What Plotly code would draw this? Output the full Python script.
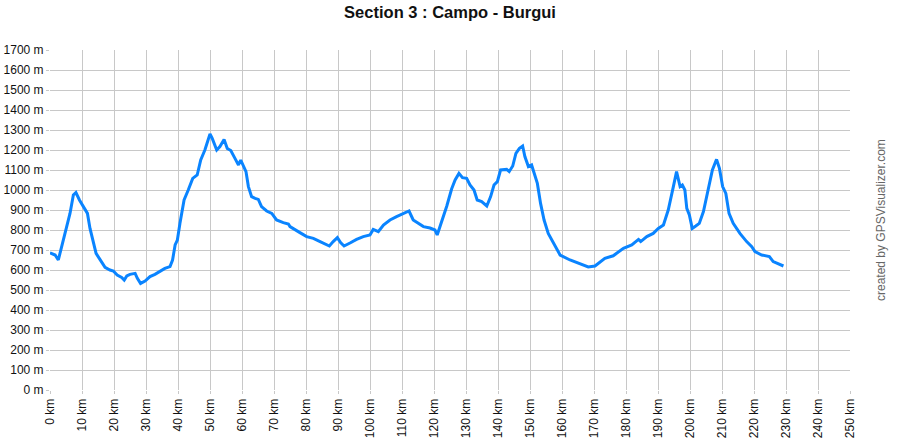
import plotly.graph_objects as go

distance_km = [0, 1.6, 2.6, 3.3, 4.7, 6.25, 7.3, 8.1, 9.2, 10.4, 11.7, 12.5, 13.5, 14.4, 15.6, 17.2,
               18.75, 19.8, 21, 22.4, 23.2, 24, 25, 26.6, 27.3, 28.3, 29.7, 31.25, 32.8, 34.4, 35.9,
               37.5, 38.3, 39.1, 39.8, 40.6, 41.9, 43.2, 44.6, 46, 47.1, 48.4, 49.3, 50, 50.7, 52.1,
               53.1, 54.4, 55.4, 56.5, 57.8, 58.9, 59.6, 60.4, 61.25, 62, 63, 64.1, 65.1, 66.1, 67.7,
               69.3, 70.8, 72.9, 74.5, 75, 76.6, 78.1, 80.2, 82.3, 84.4, 85.9, 87.3, 88.5, 89.8, 90.8,
               91.9, 93.75, 95.8, 97.9, 100, 101, 102.6, 104.2, 106.25, 108.3, 110.4, 112.2, 113.5,
               115.1, 116.7, 118.75, 120.3, 121, 122.4, 124, 125.5, 126.6, 127.8, 128.9, 130.2,
               131.25, 132.5, 133.5, 134.9, 136.5, 137.7, 138.75, 139.8, 140.8, 142.7, 143.5, 144.6,
               145.6, 146.7, 147.7, 148.4, 149.5, 150.5, 151.6, 152.3, 153.3, 154.4, 155.7, 157.3,
               159.4, 162.5, 165.6, 168.2, 170.3, 173.4, 176, 179.2, 181.8, 183.9, 184.6, 186.5,
               188.5, 190.1, 191.7, 193.2, 194.8, 195.8, 196.9, 197.6, 198.4, 199, 199.8, 200.7,
               201.8, 202.9, 204.2, 205.7, 207, 208.3, 209.2, 210.2, 211.2, 212.2, 213.5, 215.6,
               217.7, 219.3, 220.3, 222.4, 224.8, 226, 227.6, 229.2]
elevation_m = [686, 675, 650, 692, 783, 883, 975, 987, 950, 917, 883, 808, 733, 683, 653, 613,
               600, 595, 575, 563, 550, 570, 578, 583, 558, 533, 545, 567, 578, 592, 608,
               617, 650, 725, 750, 833, 950, 1000, 1058, 1075, 1150, 1200, 1242, 1280, 1258, 1200,
               1217, 1253, 1208, 1197, 1158, 1125, 1150, 1125, 1092, 1017, 967, 958, 953, 917, 895,
               883, 850, 837, 830, 817, 800, 787, 767, 758, 742, 730, 720, 742, 762, 737,
               720, 735, 753, 767, 775, 803, 792, 825, 850, 867, 880, 895, 850,
               833, 817, 810, 800, 775, 840, 920, 1005, 1050, 1083, 1062, 1058,
               1025, 1000, 950, 942, 920, 967, 1025, 1042, 1100, 1103, 1092, 1120,
               1183, 1208, 1220, 1167, 1117, 1125, 1075, 1033, 933, 850, 783, 733,
               675, 650, 632, 615, 620, 658, 671, 708, 725, 753, 742, 767,
               783, 808, 825, 900, 1017, 1092, 1017, 1025, 1000, 908, 875, 808,
               820, 833, 892, 1000, 1100, 1153, 1108, 1017, 983, 883, 833, 783,
               742, 717, 692, 675, 667, 642, 630, 620]

x_ticks = list(range(0, 251, 10))
y_ticks = list(range(0, 1701, 100))

fig = go.Figure()
fig.add_trace(go.Scatter(
    x=distance_km, y=elevation_m, mode="lines",
    line=dict(color="#0a84ff", width=3), hoverinfo="skip", showlegend=False))

fig.update_layout(
    width=900, height=440,
    margin=dict(l=50, r=50, t=50, b=50, autoexpand=False),
    paper_bgcolor="white", plot_bgcolor="white",
    font=dict(family="Liberation Sans, Arial, sans-serif", size=12, color="#111"),
    title=dict(text="<b>Section 3 : Campo - Burgui</b>", x=0.5, xanchor="center",
               y=0.972, yanchor="middle", font=dict(size=16.5, color="#111")),
    xaxis=dict(range=[0, 250], tickvals=x_ticks, ticktext=[f"{v} km" for v in x_ticks],
               tickangle=-90, showgrid=True, gridcolor="#c8c8c8", gridwidth=1,
               zeroline=False, ticks="outside", ticklen=3, tickcolor="#c8c8c8",
               showline=False, automargin=False, tickfont=dict(size=12)),
    yaxis=dict(range=[0, 1700], tickvals=y_ticks, ticktext=[f"{v} m" for v in y_ticks],
               showgrid=True, gridcolor="#c8c8c8", gridwidth=1,
               zeroline=False, ticks="outside", ticklen=3, tickcolor="#c8c8c8",
               showline=False, automargin=False, tickfont=dict(size=12)),
    annotations=[dict(text="created by GPSVisualizer.com", xref="paper", yref="paper",
                      x=1.0, xshift=40, y=0.5, textangle=-90, showarrow=False,
                      font=dict(size=12, color="#666"))],
)

fig.write_html("out.html", config={"displayModeBar": False},
               post_script="document.body.style.margin='0';")
